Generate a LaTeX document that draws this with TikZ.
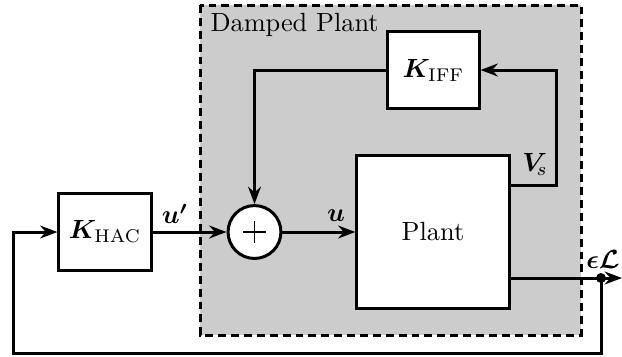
\documentclass[tikz,border=0pt]{standalone}
\usepackage{amsmath,bm}
\usetikzlibrary{arrows.meta}
\begin{document}
\begin{tikzpicture}[x=0.38pt,y=-0.38pt,
  line width=1.14pt,
  blk/.style={draw,fill=white,line width=1.14pt,inner sep=0pt},
  sumnode/.style={draw,circle,fill=white,line width=1.14pt,minimum size=20.1pt,inner sep=0pt},
  sig/.style={-{Stealth[length=6.6pt,width=4.9pt,inset=2.2pt]},line width=1.14pt},
  lbl/.style={inner sep=0pt}]
\useasboundingbox (0,0) rectangle (622,356);
\fill[black!20] (200,5) rectangle (581,335);
\draw[dash pattern=on 3pt off 1.9pt] (200,5) rectangle (581,335);
\node[lbl,anchor=base west] (dp) at (209,31) {Damped Plant};
\node[blk,minimum width=35pt,minimum height=29.3pt] (hac) at (105,232) {$\bm{K}_{\text{HAC}}$};
\node[blk,minimum width=34.6pt,minimum height=28.9pt] (iff) at (433.5,70) {$\bm{K}_{\text{IFF}}$};
\node[blk,minimum size=57.8pt] (plant) at (433,232) {Plant};
\node[sumnode] (sum) at (254.5,232) {};
\draw[line width=0.6pt] ([xshift=-4.2pt]sum.center) -- ([xshift=4.2pt]sum.center)
  ([yshift=-4.2pt]sum.center) -- ([yshift=4.2pt]sum.center);
\coordinate (vsr) at (556,185);
\coordinate (vsl) at (plant.east |- vsr);
\coordinate (ifl) at (sum.north |- iff.west);
\coordinate (outl) at (plant.east |- 0,278);
\coordinate (outr) at (622,278);
\coordinate (dot) at (601,278);
\coordinate (fb1) at (601,353);
\coordinate (fb2) at (13,353);
\coordinate (fb3) at (13,232);
\draw[sig] (hac.east) -- (sum.west);
\draw[sig] (sum.east) -- (plant.west);
\draw[sig] (vsl) -- (vsr) -- (vsr |- iff.east) -- (iff.east);
\draw[sig] (iff.west) -- (ifl) -- (sum.north);
\draw[sig] (outl) -- (outr);
\fill (dot) circle (1.9pt);
\draw[sig] (dot) -- (fb1) -- (fb2) -- (fb3) -- (hac.west);
\node[lbl] (lu1) at (175,214) {$\bm{u'}$};
\node[lbl] (lu) at (336,216) {$\bm{u}$};
\node[lbl] (lvs) at (535,164) {$\bm{V}_{\!s}$};
\node[lbl] (leps) at (603,259) {$\bm{\epsilon\mathcal{L}}$};
\end{tikzpicture}
\end{document}
